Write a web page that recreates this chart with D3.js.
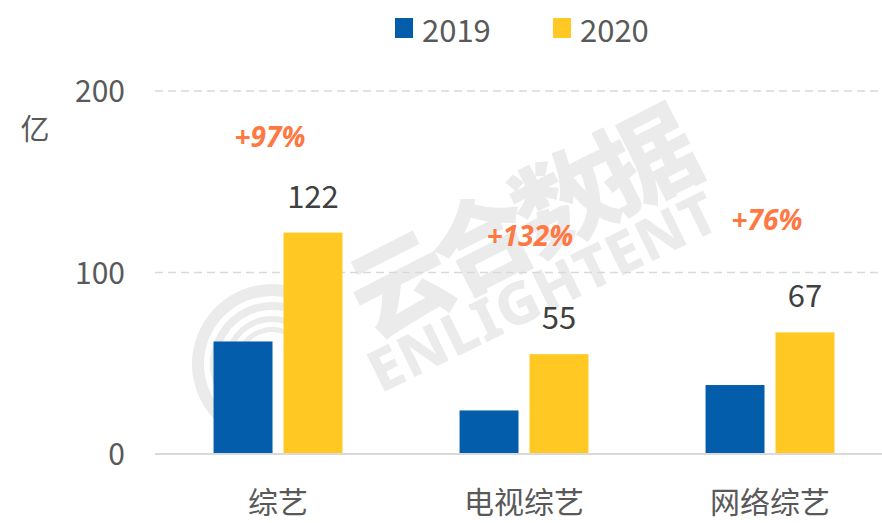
<!DOCTYPE html>
<html>
<head>
<meta charset="utf-8">
<script src="https://cdn.jsdelivr.net/npm/d3@7"></script>
<style>
  html, body { margin: 0; padding: 0; background: #ffffff; }
  svg { display: block; }
</style>
</head>
<body>
<svg id="chart" width="882" height="523"></svg>
<script>
// ---- data ----
const categories = ["综艺", "电视综艺", "网络综艺"];
const seriesNames = ["2019", "2020"];
const values2019 = [62, 24, 38];
const values2020 = [122, 55, 67];
const growthLabels = ["+97%", "+132%", "+76%"];
const yTicks = [0, 100, 200];
const unitLabel = "亿";

// ---- layout & style ----
const W = 882, H = 523;
const colors = { "2019": "#045DAB", "2020": "#FFC822" };
const growthColor = "#FF7843";
const gridColor = "#D9D9D9";
const axisTextColor = "#595959";
const valueTextColor = "#404040";
const cjk = "'Noto Sans CJK SC', 'Noto Sans', sans-serif";
// growth labels sit this many px above the 2020 value label
const growthLift = [61, 83, 77];
const growthShift = [-8, 6, -3];

const seriesValues = { "2019": values2019, "2020": values2020 };
const rows = categories.map((c, i) => ({
  category: c,
  bars: seriesNames.map(s => ({ series: s, value: seriesValues[s][i] }))
}));

const svg = d3.select("#chart");

const x0 = d3.scaleBand().domain(categories).range([155, 893])
  .paddingInner(0.476).paddingOuter(0.238);
const x1 = d3.scaleBand().domain(seriesNames).range([0, x0.bandwidth()])
  .paddingInner(0.157);
const y = d3.scaleLinear().domain([0, 200]).range([454, 91]);

// ---- watermark (logo + brand text) ----
const wm = svg.append("g").attr("fill", "#EBEBEB");
const logo = wm.append("g").attr("transform", "translate(272,364)");
const rings = [
  { r0: 68, r1: 80, a0: -2.75, a1: 0.55 },
  { r0: 54, r1: 62, a0: -2.3, a1: 0.2 },
  { r0: 42, r1: 48, a0: -2.0, a1: 0.9 },
  { r0: 32, r1: 37, a0: -1.7, a1: 0.6 }
];
rings.forEach(d => {
  logo.append("path").attr("d", d3.arc()({
    innerRadius: d.r0, outerRadius: d.r1, startAngle: d.a0, endAngle: d.a1
  }));
});
wm.append("text")
  .attr("transform", "translate(517,218) rotate(-27)")
  .attr("text-anchor", "middle")
  .attr("dominant-baseline", "central")
  .style("font-family", cjk)
  .style("font-weight", 900)
  .style("font-size", "100px")
  .style("letter-spacing", "-8px")
  .text("云合数据");
wm.append("text")
  .attr("transform", "translate(542,290) rotate(-26)")
  .attr("text-anchor", "middle")
  .attr("dominant-baseline", "central")
  .style("font-family", "'Noto Sans', sans-serif")
  .style("font-weight", 800)
  .style("font-size", "58px")
  .style("letter-spacing", "1px")
  .text("ENLIGHTENT");

// ---- gridlines ----
svg.append("g").selectAll("line")
  .data(yTicks.filter(t => t > 0))
  .join("line")
  .attr("x1", 155).attr("x2", W)
  .attr("y1", d => y(d)).attr("y2", d => y(d))
  .attr("stroke", gridColor)
  .attr("stroke-width", 1.5)
  .attr("stroke-dasharray", "8,5");

// ---- y axis labels ----
const yAxis = d3.axisLeft(y).tickValues(yTicks).tickSize(0).tickPadding(0);
const yAxisG = svg.append("g").attr("transform", "translate(125,0)").call(yAxis);
yAxisG.select(".domain").remove();
yAxisG.selectAll("text")
  .attr("fill", axisTextColor)
  .attr("dy", "0.35em")
  .style("font-family", cjk)
  .style("font-size", "30px");

svg.append("text")
  .attr("x", 35).attr("y", 127)
  .attr("text-anchor", "middle")
  .attr("dominant-baseline", "central")
  .attr("fill", axisTextColor)
  .style("font-family", cjk)
  .style("font-size", "29px")
  .text(unitLabel);

// ---- bars ----
const groups = svg.append("g").selectAll("g")
  .data(rows)
  .join("g")
  .attr("transform", d => `translate(${x0(d.category)},0)`);

groups.selectAll("rect")
  .data(d => d.bars)
  .join("rect")
  .attr("x", d => x1(d.series))
  .attr("width", x1.bandwidth())
  .attr("y", d => y(d.value))
  .attr("height", d => y(0) - y(d.value))
  .attr("fill", d => colors[d.series]);

// value labels over 2020 bars
groups.append("text")
  .attr("x", x1("2020") + x1.bandwidth() / 2)
  .attr("y", d => y(d.bars[1].value) - 25)
  .attr("text-anchor", "middle")
  .attr("fill", valueTextColor)
  .style("font-family", cjk)
  .style("font-size", "31px")
  .text(d => d.bars[1].value);

// growth labels
groups.append("text")
  .attr("x", (d, i) => x0.bandwidth() / 2 + growthShift[i])
  .attr("y", (d, i) => y(d.bars[1].value) - 25 - growthLift[i])
  .attr("text-anchor", "middle")
  .attr("fill", growthColor)
  .style("font-family", "'Open Sans', 'Noto Sans', sans-serif")
  .style("font-weight", 700)
  .style("font-style", "italic")
  .style("font-size", "28px")
  .text((d, i) => growthLabels[i]);

// ---- baseline ----
svg.append("line")
  .attr("x1", 155).attr("x2", W)
  .attr("y1", y(0)).attr("y2", y(0))
  .attr("stroke", gridColor)
  .attr("stroke-width", 2);

// ---- category labels ----
const xAxis = d3.axisBottom(x0).tickSize(0).tickPadding(0);
const xAxisG = svg.append("g").attr("transform", `translate(0,${y(0)})`).call(xAxis);
xAxisG.select(".domain").remove();
xAxisG.selectAll("text")
  .attr("y", 48)
  .attr("dy", "0.35em")
  .attr("fill", axisTextColor)
  .style("font-family", cjk)
  .style("font-size", "30px");

// ---- legend ----
const legend = svg.append("g");
const legendX = [395, 553];
seriesNames.forEach((s, i) => {
  legend.append("rect")
    .attr("x", legendX[i]).attr("y", 18)
    .attr("width", 18).attr("height", 20)
    .attr("fill", colors[s]);
  legend.append("text")
    .attr("x", legendX[i] + 27).attr("y", 28)
    .attr("dominant-baseline", "central")
    .attr("fill", axisTextColor)
    .style("font-family", cjk)
    .style("font-size", "31px")
    .text(s);
});
</script>
</body>
</html>
